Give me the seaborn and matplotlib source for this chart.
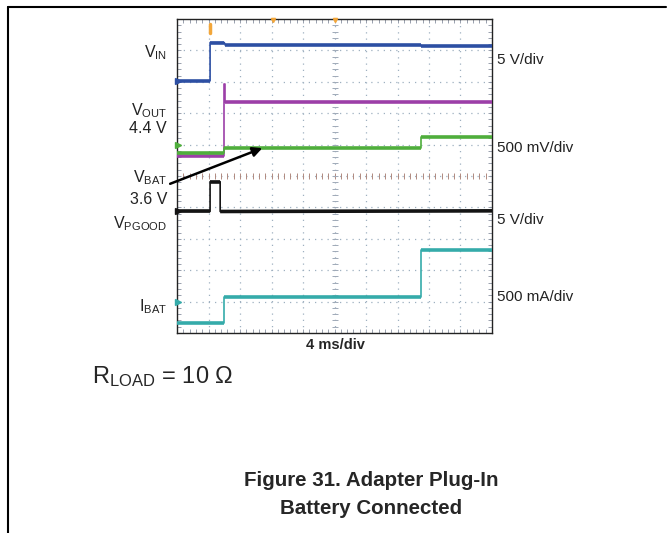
import numpy as np
import pandas as pd
import seaborn as sns
import matplotlib.pyplot as plt
from matplotlib.lines import Line2D

# Scope traces (x and y in divisions)
vin_t = [0, 1.05, 1.05, 1.50, 1.53, 7.74, 7.76, 10]
vin_v = [8.03, 8.03, 9.25, 9.25, 9.17, 9.17, 9.14, 9.14]

vout_t = [0, 1.49, 1.49, 1.51, 1.51, 10]
vout_v = [5.65, 5.65, 7.93, 7.93, 7.36, 7.36]

vbat_t = [0, 1.50, 1.50, 7.74, 7.74, 10]
vbat_v = [5.72, 5.72, 5.89, 5.89, 6.25, 6.25]

vpg_t = [0, 1.05, 1.05, 1.37, 1.37, 10]
vpg_v = [3.87, 3.87, 4.82, 4.82, 3.87, 3.89]

ibat_t = [0, 1.49, 1.49, 7.74, 7.74, 10]
ibat_v = [0.31, 0.31, 1.16, 1.16, 2.64, 2.64]

trace_names = ["VIN", "VOUT", "VBAT", "VPGOOD", "IBAT"]
trace_colors = ["#2d4fa3", "#9c3fa8", "#4fae3c", "#141414", "#35abaa"]

left_labels = ["V$_{IN}$", "V$_{OUT}$", "4.4 V", "V$_{BAT}$", "3.6 V", "V$_{PGOOD}$", "I$_{BAT}$"]
left_label_y = [53, 111, 129, 178, 199, 224, 307]
right_labels = ["5 V/div", "500 mV/div", "5 V/div", "500 mA/div"]
right_label_y = [60, 148, 220, 297]

all_t = [vin_t, vout_t, vbat_t, vpg_t, ibat_t]
all_v = [vin_v, vout_v, vbat_v, vpg_v, ibat_v]

frames = []
for name, t, v in zip(trace_names, all_t, all_v):
    frames.append(pd.DataFrame({"t": t, "v": v, "trace": name}))
df = pd.concat(frames, ignore_index=True)

sns.set_theme(style="white")
plt.rcParams["font.family"] = ["Liberation Sans", "DejaVu Sans"]
plt.rcParams["mathtext.default"] = "regular"

W, H = 671, 533
fig = plt.figure(figsize=(W / 100, H / 100), dpi=100)
ax = fig.add_axes([177 / W, 1 - 333 / H, 315 / W, 314 / H])

# graticule
for k in range(1, 10):
    ax.axvline(k, color="#9fb0c0", lw=0.9, ls=(0, (1, 4)), zorder=1)
    ax.axhline(k, color="#9fb0c0", lw=0.9, ls=(0, (1, 4)), zorder=1)
minor = np.arange(0, 10.01, 0.2)
ax.plot(minor, np.full_like(minor, 5), ls="none", marker="|", ms=4, mew=0.7, color="#b08a80", zorder=1)
ax.plot(np.full_like(minor, 5), minor, ls="none", marker="_", ms=4, mew=0.7, color="#a0aab8", zorder=1)
for edge in [0.05, 9.95]:
    ax.plot(minor, np.full_like(minor, edge), ls="none", marker="|", ms=3, mew=0.6, color="#8890a0", zorder=1)
    ax.plot(np.full_like(minor, edge), minor, ls="none", marker="_", ms=3, mew=0.6, color="#8890a0", zorder=1)

# thin traces (the fast edges are thin on the scope)
sns.lineplot(data=df, x="t", y="v", hue="trace", hue_order=trace_names,
             palette=trace_colors, sort=False, estimator=None, lw=1.2,
             legend=False, ax=ax, zorder=3)
# the flat parts carry noise, so they show up as wide bands
for t, v, c in zip(all_t, all_v, trace_colors):
    for i in range(len(t) - 1):
        if t[i + 1] - t[i] > 0.05:
            ax.plot([t[i], t[i + 1]], [v[i], v[i + 1]], color=c, lw=2.6,
                    solid_capstyle="butt", zorder=3)

# trigger markers
ax.plot([1.05, 1.05], [9.55, 9.85], color="#f2a63a", lw=2.5, zorder=4)
ax.plot([3.05, 5.0], [9.97, 9.97], ls="none", marker="v", ms=3, color="#f2a63a", zorder=4, clip_on=False)

# channel markers on the left edge
for yv, c in zip([8.03, 6.0, 3.9, 1.0], ["#2d4fa3", "#4fae3c", "#141414", "#35abaa"]):
    ax.plot([0.02], [yv], marker=">", ms=4, color=c, clip_on=False, zorder=4)

ax.set_xlim(0, 10)
ax.set_ylim(0, 10)
ax.set_xticks([])
ax.set_yticks([])
ax.set_xlabel("")
ax.set_ylabel("")
for s in ax.spines.values():
    s.set_color("#222222")
    s.set_linewidth(1.0)

# VBAT arrow
ax.annotate("", xy=(2.79, 5.92), xytext=(-0.3, 4.72),
            arrowprops=dict(arrowstyle="-|>", color="black", lw=1.8, mutation_scale=14),
            annotation_clip=False)

for txt, yp in zip(left_labels, left_label_y):
    fig.text(167 / W, 1 - yp / H, txt, ha="right", va="center", fontsize=11.5, color="#222222")
for txt, yp in zip(right_labels, right_label_y):
    fig.text(497 / W, 1 - yp / H, txt, ha="left", va="center", fontsize=11, color="#222222")

fig.text(335 / W, 1 - 345 / H, "4 ms/div", ha="center", va="center", fontsize=10.5, fontweight="bold")
fig.text(92 / W, 1 - 377 / H, "R$_{LOAD}$ = 10 Ω", ha="left", va="center", fontsize=17)
fig.text(371 / W, 1 - 481 / H, "Figure 31. Adapter Plug-In", ha="center", va="center",
         fontsize=14.8, fontweight="bold")
fig.text(371 / W, 1 - 508 / H, "Battery Connected", ha="center", va="center",
         fontsize=14.8, fontweight="bold")

# page border
fig.add_artist(Line2D([8 / W, 666 / W], [1 - 7 / H, 1 - 7 / H], color="black", lw=1.5))
fig.add_artist(Line2D([8 / W, 8 / W], [1 - 7 / H, 0], color="black", lw=1.5))

fig.savefig("out.png", dpi=100, facecolor="white")
